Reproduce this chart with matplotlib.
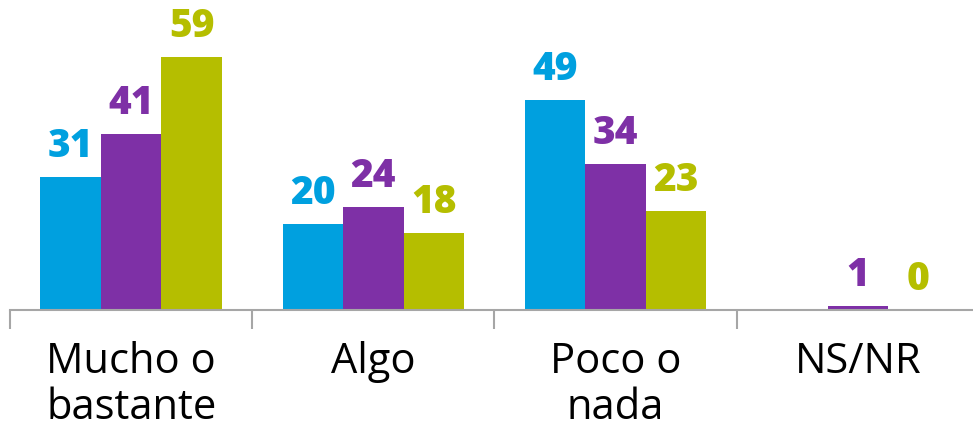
import numpy as np
import matplotlib
matplotlib.use("Agg")
import matplotlib.pyplot as plt

categories = ["Mucho o\nbastante", "Algo", "Poco o\nnada", "NS/NR"]
serie_azul = [31, 20, 49, None]
serie_morada = [41, 24, 34, 1]
serie_verde = [59, 18, 23, 0]

colores = ["#00A0DF", "#7E30A6", "#B5BE00"]
series = [serie_azul, serie_morada, serie_verde]

fig = plt.figure(figsize=(9.73, 4.36), dpi=100)
ax = fig.add_axes([10 / 973, 126 / 436, 969 / 973, 300 / 436])

x = np.arange(len(categories))
width = 0.25
for i, (vals, col) in enumerate(zip(series, colores)):
    offs = (i - 1) * width
    for xi, v in zip(x, vals):
        if v is None:
            continue
        ax.bar(xi + offs, v, width, color=col)
        ax.annotate(str(v), (xi + offs, v), xytext=(0, 8), textcoords="offset points",
                    ha="center", va="bottom", fontsize=28, fontweight="heavy",
                    color=col, family="Open Sans")

ax.set_xlim(-0.5, 3.5)
ax.set_ylim(0, 70)
ax.set_yticks([])
ax.set_xticks(x)
ax.set_xticklabels(categories, fontsize=30, family="Open Sans", linespacing=1.15)
ax.set_xticks(np.arange(-0.5, 4.0, 1), minor=True)
ax.tick_params(axis="x", which="major", length=0, pad=22)
ax.tick_params(axis="x", which="minor", length=14, color="#A6A6A6", width=1.5)
for s in ["top", "right", "left"]:
    ax.spines[s].set_visible(False)
ax.spines["bottom"].set_color("#A6A6A6")
ax.spines["bottom"].set_linewidth(1.5)

fig.savefig("out.png", dpi=100)
